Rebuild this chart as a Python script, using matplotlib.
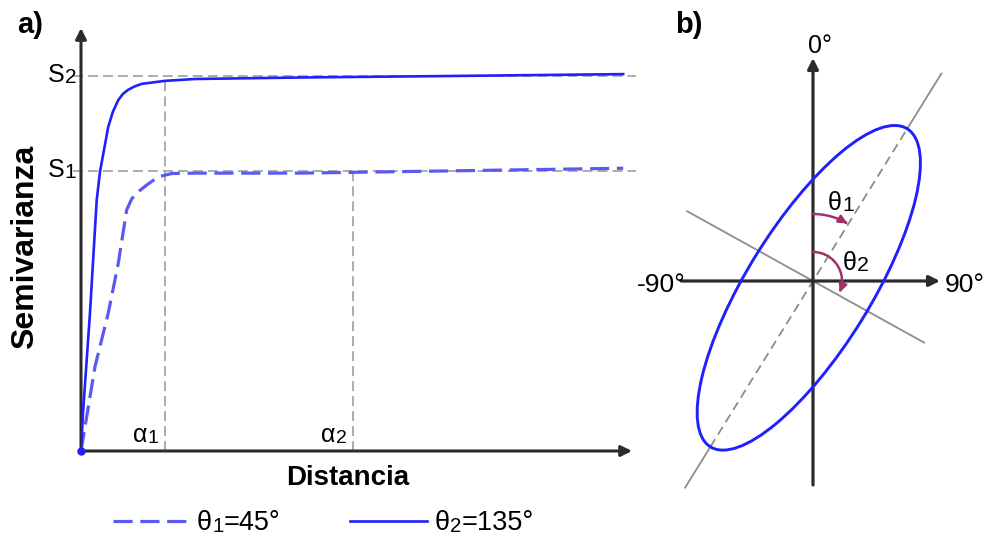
import matplotlib
matplotlib.use('Agg')  # pas d'affichage
import matplotlib.pyplot as plt
from matplotlib.lines import Line2D
from matplotlib.patches import Ellipse, FancyArrowPatch
from matplotlib.path import Path
from matplotlib.transforms import offset_copy
import numpy as np

plt.rcParams['font.family'] = ['Liberation Sans', 'DejaVu Sans']

# Variogrammes directionnels (distance en % de l'axe, semivariance normalisée)
dist_solid = [0, 0.36, 1.63, 2.85, 3.45, 4.95, 5.8, 6.77, 7.6, 8.53, 9.7, 11.0, 15.2, 20.7, 39.7, 67.0, 98.4]
semi_solid = [0, 0.101, 0.368, 0.669, 0.745, 0.865, 0.905, 0.936, 0.952, 0.963, 0.972, 0.979, 0.987, 0.992, 0.996, 1.0, 1.005]
dist_dashed = [0, 2.54, 4.95, 6.77, 8.29, 9.2, 10.1, 11.9, 14.0, 16.5, 20.7, 39.7, 67.0, 98.4]
semi_dashed = [0, 0.225, 0.368, 0.501, 0.643, 0.672, 0.688, 0.709, 0.731, 0.740, 0.741, 0.741, 0.747, 0.754]

sill1, sill2 = 0.747, 1.0      # S1, S2
range1, range2 = 15.2, 49.4    # a1, a2

# Ellipse d'anisotropie (schéma b)
theta1_azimuth = 31.75   # axe principal, depuis le nord
theta2_azimuth = 119.0   # axe secondaire
ell_a, ell_b, ell_shift = 187, 62, -8

BLUE = '#1f1fff'
BLUE_LIGHT = '#5a5af2'
GREY = '#a6a6a6'
AXIS = '#2b2b2b'
ARC = '#a3306a'

W, H = 986, 536
fig = plt.figure(figsize=(W / 100, H / 100), dpi=100)


def fx(px):
    return px / W


def fy(py):
    return 1 - py / H


def indexed_text(ax, x, y, head, idx, tail='', size=14, ratio=0.75, transform=None, **kw):
    # texte avec petit indice posé sur la ligne de base
    if transform is None:
        transform = ax.transData
    t = ax.text(x, y, head, fontsize=size, transform=transform, ha='left', va='baseline', **kw)
    s = ax.annotate(idx, xy=(1, 0), xycoords=t, fontsize=size * ratio, ha='left', va='bottom', **kw)
    if tail:
        ax.annotate(tail, xy=(1, 0), xycoords=s, fontsize=size, ha='left', va='bottom', **kw)
    return t


# fond en coordonnées pixels pour les titres et la légende
ax_bg = fig.add_axes([0, 0, 1, 1])
ax_bg.set_xlim(0, W)
ax_bg.set_ylim(H, 0)
ax_bg.axis('off')

ax_bg.text(17, 33, 'a)', fontsize=21, fontweight='bold', va='baseline')
ax_bg.text(675, 33, 'b)', fontsize=21, fontweight='bold', va='baseline')
ax_bg.text(348, 485, 'Distancia', fontsize=20, fontweight='bold', ha='center', va='baseline')
ax_bg.text(33, 247, 'Semivarianza', fontsize=23, fontweight='bold', rotation=90,
           rotation_mode='anchor', ha='center', va='baseline')

# ---- a) semivariogrammes
ax = fig.add_axes([fx(81), fy(451), fx(632) - fx(81), fy(28) - fy(451)])
ax.set_xlim(0, 100)
ax.set_ylim(0, 1.128)
ax.axis('off')

arrow = dict(arrowstyle='-|>', color=AXIS, lw=2.2, mutation_scale=16, shrinkA=0, shrinkB=0)
ax.annotate('', xy=(0, 1), xytext=(0, 0), xycoords='axes fraction', arrowprops=arrow)
ax.annotate('', xy=(1, 0), xytext=(0, 0), xycoords='axes fraction', arrowprops=arrow)

ref = dict(color=GREY, lw=1.3, dashes=(5.5, 2.8), clip_on=False, zorder=1)
ax.plot([-1.5, 100.8], [sill2, sill2], **ref)
ax.plot([-1.5, 100.8], [sill1, sill1], **ref)
ax.plot([range1, range1], [0, sill2], **ref)
ax.plot([range2, range2], [0, sill1], **ref)

ax.plot(dist_dashed, semi_dashed, color=BLUE_LIGHT, lw=2.3, dashes=(6, 2.4), zorder=3)
ax.plot(dist_solid, semi_solid, color=BLUE, lw=1.9, zorder=4)
ax.plot([0], [0], 'o', color=BLUE, ms=5, clip_on=False, zorder=5)

s_off = offset_copy(ax.transData, fig=fig, x=-33, y=-6, units='dots')
indexed_text(ax, 0, sill2, 'S', '2', size=18, ratio=0.83, transform=s_off)
indexed_text(ax, 0, sill1, 'S', '1', size=18, ratio=0.83, transform=s_off)
a_off = offset_copy(ax.transData, fig=fig, x=-32, y=9, units='dots')
indexed_text(ax, range1, 0, 'α', '1', size=18, ratio=0.78, transform=a_off)
indexed_text(ax, range2, 0, 'α', '2', size=18, ratio=0.78, transform=a_off)

# légende
ax_bg.add_line(Line2D([113, 192], [521, 521], color=BLUE_LIGHT, lw=2.3, dashes=(6, 2.4)))
indexed_text(ax_bg, 197, 530, 'θ', '1', '=45°', size=19.5)
ax_bg.add_line(Line2D([350, 427], [521, 521], color=BLUE, lw=1.9))
indexed_text(ax_bg, 435, 530, 'θ', '2', '=135°', size=19.5)

# ---- b) ellipse d'anisotropie
axb = fig.add_axes([fx(630), 0, 1 - fx(630), 1])
axb.set_xlim(-183, 173)
axb.set_ylim(-255, 281)
axb.axis('off')


def direction(az):
    r = np.radians(az)
    return np.array([np.sin(r), np.cos(r)])


u1 = direction(theta1_azimuth)
u2 = direction(theta2_azimuth)

# axe principal : plein hors de l'ellipse, tireté dedans
t_in = [ell_shift - ell_a, ell_shift + ell_a]
for t0, t1, ls in [(-243, t_in[0], '-'), (t_in[0], t_in[1], '--'), (t_in[1], 244, '-')]:
    axb.plot([t0 * u1[0], t1 * u1[0]], [t0 * u1[1], t1 * u1[1]], color='#8c8c8c', lw=1.3,
             linestyle=ls, dashes=(5, 3) if ls == '--' else (None, None), zorder=1)
axb.plot([-144 * u2[0], 127 * u2[0]], [-144 * u2[1], 127 * u2[1]], color='#8c8c8c', lw=1.3, zorder=1)

barrow = dict(arrowstyle='-|>', color=AXIS, lw=2.3, mutation_scale=16, shrinkA=0, shrinkB=0)
axb.annotate('', xy=(0, 223), xytext=(0, -204), arrowprops=barrow, zorder=2)
axb.annotate('', xy=(127, 0), xytext=(-132, 0), arrowprops=barrow, zorder=2)

centre = ell_shift * u1
axb.add_patch(Ellipse(centre, 2 * ell_a, 2 * ell_b, angle=90 - theta1_azimuth,
                      fill=False, edgecolor=BLUE, lw=2.1, zorder=3))

for radius, az_end in [(67, theta1_azimuth - 1), (29, theta2_azimuth - 6)]:
    az = np.linspace(0, az_end, 30)
    pts = np.column_stack([radius * np.sin(np.radians(az)), radius * np.cos(np.radians(az))])
    axb.add_patch(FancyArrowPatch(path=Path(pts), arrowstyle='-|>', color=ARC, lw=1.8,
                                  mutation_scale=12, zorder=4))

axb.text(-5, 228, '0°', fontsize=18, va='baseline')
axb.text(-176, -11, '-90°', fontsize=19, va='baseline')
axb.text(132, -11, '90°', fontsize=19, va='baseline')
indexed_text(axb, 15, 71, 'θ', '1', size=18, ratio=0.85)
indexed_text(axb, 30, 11, 'θ', '2', size=18, ratio=0.85)

fig.savefig('out.png', dpi=100)
